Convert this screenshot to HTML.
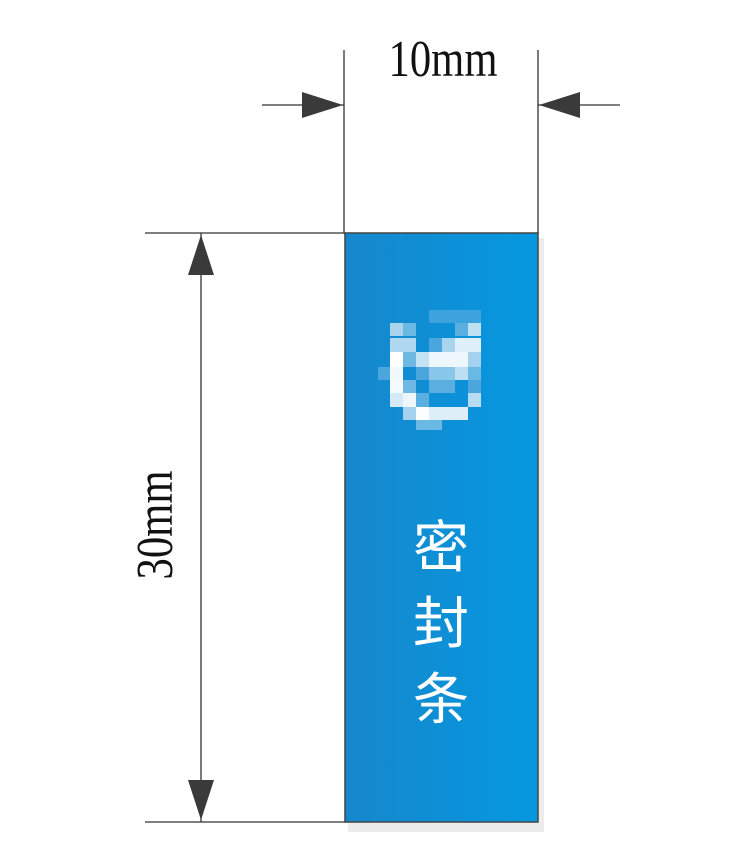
<!DOCTYPE html>
<html><head><meta charset="utf-8"><style>
html,body{margin:0;padding:0;background:#fff;}
</style></head><body>
<svg width="746" height="857" xmlns="http://www.w3.org/2000/svg">
<defs><linearGradient id="g" x1="0" x2="1" y1="0" y2="0">
<stop offset="0" stop-color="#1787cc"/><stop offset="1" stop-color="#0598e0"/></linearGradient></defs>
<rect x="348" y="238" width="196" height="594" fill="#ececec"/>
<rect x="345" y="233" width="193" height="589" fill="url(#g)" stroke="#444" stroke-width="1.5"/>
<g>
<rect x="429" y="310" width="52" height="13" fill="#4aa8de" opacity="0.8"/>
<rect x="390" y="323" width="13" height="13" fill="#a8d4ee"/><rect x="403" y="323" width="13" height="13" fill="#6ab8e4"/><rect x="455" y="323" width="13" height="13" fill="#5aaee0"/><rect x="468" y="323" width="13" height="13" fill="#bfe0f3"/>
<rect x="390" y="338" width="26" height="14" fill="#b0d8f0"/><rect x="429" y="338" width="13" height="14" fill="#4aa6dc"/><rect x="442" y="338" width="13" height="14" fill="#a8d4ee"/><rect x="455" y="338" width="26" height="14" fill="#e0f0fa"/>
<rect x="390" y="352" width="13" height="15" fill="#ffffff"/><rect x="403" y="352" width="13" height="15" fill="#70b8e4"/><rect x="416" y="352" width="13" height="15" fill="#c4e4f4"/><rect x="429" y="352" width="39" height="15" fill="#eef7fc"/><rect x="468" y="352" width="13" height="15" fill="#a4d2ee"/>
<rect x="378" y="367" width="12" height="13" fill="#4aa6dc"/><rect x="390" y="367" width="13" height="13" fill="#f2f9fd"/><rect x="416" y="367" width="13" height="13" fill="#4aa6dc"/><rect x="429" y="367" width="26" height="13" fill="#88c6ea"/><rect x="455" y="367" width="13" height="13" fill="#bcdff3"/><rect x="468" y="367" width="13" height="13" fill="#6ab8e4"/>
<rect x="390" y="380" width="13" height="13" fill="#f4fafe"/><rect x="403" y="380" width="13" height="13" fill="#70b8e4"/><rect x="429" y="380" width="26" height="13" fill="#5aaee0"/><rect x="468" y="380" width="13" height="13" fill="#4aa6dc"/>
<rect x="390" y="393" width="13" height="14" fill="#d4eaf7"/><rect x="403" y="393" width="13" height="14" fill="#eef7fc"/><rect x="416" y="393" width="13" height="14" fill="#5aaee0"/><rect x="468" y="393" width="13" height="14" fill="#b8dcf2"/>
<rect x="403" y="407" width="13" height="13" fill="#a4d2ee"/><rect x="416" y="407" width="13" height="13" fill="#fbfdff"/><rect x="429" y="407" width="39" height="13" fill="#ddeef9"/>
<rect x="416" y="420" width="26" height="10" fill="#6ab8e4"/>
</g>
<text x="441" y="567" font-family="'Liberation Sans','Noto Sans CJK SC',sans-serif" font-size="56" fill="#fff" text-anchor="middle">密</text>
<text x="441" y="643" font-family="'Liberation Sans','Noto Sans CJK SC',sans-serif" font-size="56" fill="#fff" text-anchor="middle">封</text>
<text x="441" y="719" font-family="'Liberation Sans','Noto Sans CJK SC',sans-serif" font-size="56" fill="#fff" text-anchor="middle">条</text>
<g stroke="#333" stroke-width="1.3">
<line x1="344" y1="50" x2="344" y2="233"/>
<line x1="538" y1="50" x2="538" y2="233"/>
<line x1="262" y1="105" x2="344" y2="105"/>
<line x1="538" y1="105" x2="620" y2="105"/>
<line x1="145" y1="233" x2="345" y2="233"/>
<line x1="145" y1="822" x2="345" y2="822"/>
<line x1="201" y1="233" x2="201" y2="822"/>
</g>
<g fill="#3a3a3a">
<polygon points="302,92 343,105 302,118"/>
<polygon points="580,92 539,105 580,118"/>
<polygon points="188,275 201,235 214,275"/>
<polygon points="188,780 201,820 214,780"/>
</g>
<text transform="translate(443,76) scale(0.82,1)" font-family="'Liberation Serif',serif" font-size="52" fill="#111" text-anchor="middle">10mm</text>
<text transform="translate(172,525) rotate(-90) scale(0.82,1)" font-family="'Liberation Serif',serif" font-size="52" fill="#111" text-anchor="middle">30mm</text>
</svg>
</body></html>
